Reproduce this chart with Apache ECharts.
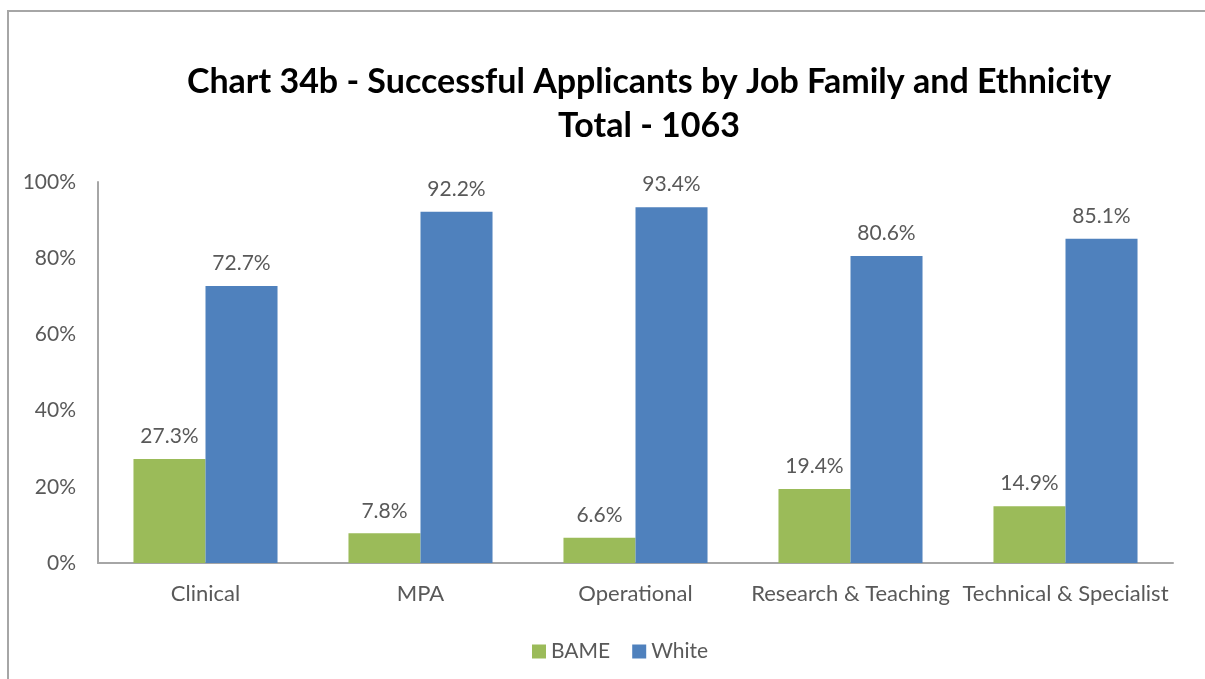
<!DOCTYPE html>
<html>
<head>
<meta charset="utf-8">
<script src="https://cdn.jsdelivr.net/npm/echarts@6/dist/echarts.min.js"></script>
<style>
  html, body { margin: 0; padding: 0; background: #fff; }
  #chart { width: 1205px; height: 679px; }
</style>
</head>
<body>
<div id="chart"></div>
<script>
// Job families along the x axis
const categories = ['Clinical', 'MPA', 'Operational', 'Research & Teaching', 'Technical & Specialist'];
// Share of successful applicants (%) per job family
const bameValues = [27.3, 7.8, 6.6, 19.4, 14.9];
const whiteValues = [72.7, 92.2, 93.4, 80.6, 85.1];
const seriesNames = ['BAME', 'White'];
const titleLines = ['Chart 34b - Successful Applicants by Job Family and Ethnicity', 'Total - 1063'];

const textFont = 'Lato';
const textColor = '#595959';

const chart = echarts.init(document.getElementById('chart'), null, { renderer: 'canvas' });

const labelStyle = {
  show: true,
  position: 'top',
  distance: 12,
  color: textColor,
  fontFamily: textFont,
  fontSize: 21,
  formatter: p => p.value.toFixed(1) + '%'
};

chart.setOption({
  backgroundColor: '#fff',
  animation: false,
  graphic: [{
    type: 'rect',
    shape: { x: 8, y: 11, width: 1220, height: 700 },
    style: { fill: 'none', stroke: '#a6a6a6', lineWidth: 2 },
    silent: true
  }],
  title: {
    text: titleLines.join('\n'),
    left: 644,
    textAlign: 'center',
    top: 55,
    textStyle: {
      fontFamily: 'Lato',
      fontWeight: 'bold',
      fontSize: 34,
      lineHeight: 44,
      color: '#000'
    }
  },
  legend: {
    data: seriesNames,
    left: 527,
    top: 636,
    itemWidth: 14,
    itemHeight: 14,
    itemGap: 22,
    icon: 'rect',
    textStyle: { color: textColor, fontFamily: textFont, fontSize: 21 }
  },
  grid: { left: 98, right: 32, top: 182, bottom: 116, containLabel: false },
  xAxis: {
    type: 'category',
    data: categories,
    axisLine: { show: true, lineStyle: { color: '#a6a6a6', width: 2 } },
    axisTick: { show: false },
    axisLabel: { color: textColor, fontFamily: textFont, fontSize: 22, margin: 20, interval: 0 }
  },
  yAxis: {
    type: 'value',
    min: 0,
    max: 100,
    interval: 20,
    axisLine: { show: true, lineStyle: { color: '#a6a6a6', width: 2 } },
    axisTick: { show: false },
    splitLine: { show: false },
    axisLabel: { color: textColor, fontFamily: textFont, fontSize: 21, margin: 22, formatter: '{value}%' }
  },
  series: [
    {
      name: seriesNames[0],
      type: 'bar',
      data: bameValues,
      barGap: '0%',
      barCategoryGap: '33%',
      itemStyle: { color: '#9BBB59' },
      label: labelStyle
    },
    {
      name: seriesNames[1],
      type: 'bar',
      data: whiteValues,
      barGap: '0%',
      barCategoryGap: '33%',
      itemStyle: { color: '#4F81BD' },
      label: labelStyle
    }
  ]
});
</script>
</body>
</html>
